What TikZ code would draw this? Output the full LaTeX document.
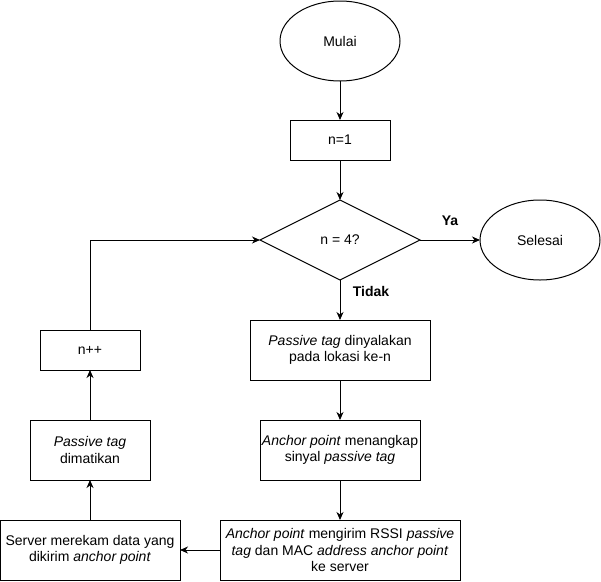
\documentclass[tikz,border=0pt]{standalone}
\usepackage{fontspec}
\setmainfont{Liberation Sans}
\usetikzlibrary{shapes.geometric,arrows.meta}
\begin{document}
\begin{tikzpicture}[x=1pt,y=-1pt,
  every node/.style={font=\fontsize{14}{16.5}\selectfont, align=center, inner sep=0pt, outer sep=0pt},
  proc/.style={draw, rectangle, line width=1pt},
  term/.style={draw, ellipse, line width=1pt, minimum width=120pt, minimum height=80pt},
  decision/.style={draw, diamond, aspect=2, line width=1pt, minimum width=160pt, minimum height=80pt},
  lbl/.style={font=\fontsize{14}{16.5}\selectfont\bfseries},
  flow/.style={line width=1pt, -{Stealth[length=8pt,width=7pt,inset=2.5pt]}}
]
\useasboundingbox (0,0) rectangle (601,581);

% main column
\node[term] (mulai) at (340,41) {Mulai};
\node[proc, minimum width=100pt, minimum height=40pt] (init) at (340,140) {n=1};
\node[decision] (cek) at (340,240) {n = 4?};
\node[term] (selesai) at (540,240) {Selesai};
\node[proc, minimum width=180pt, minimum height=60pt] (nyala) at (340,350)
  {\textit{Passive tag} dinyalakan\\pada lokasi ke-n};
\node[proc, minimum width=160pt, minimum height=60pt] (tangkap) at (340,450)
  {\textit{Anchor point} menangkap\\sinyal \textit{passive tag}};
\node[proc, minimum width=240pt, minimum height=60pt] (kirim) at (340,550)
  {\textit{Anchor point} mengirim RSSI \textit{passive}\\\textit{tag} dan MAC \textit{address anchor point}\\ke server};

% return column
\node[proc, minimum width=180pt, minimum height=60pt] (server) at (90,550)
  {Server merekam data yang\\dikirim \textit{anchor point}};
\node[proc, minimum width=120pt, minimum height=60pt] (mati) at (90,450)
  {\textit{Passive tag}\\dimatikan};
\node[proc, minimum width=100pt, minimum height=40pt] (inc) at (90,350) {n++};

% branch labels
\node[lbl] (ya) at (450,221) {Ya};
\node[lbl] (tidak) at (371,291) {Tidak};

% connectors
\draw[flow] (mulai.south) -- (init.north);
\draw[flow] (init.south) -- (cek.north);
\draw[flow] (cek.east) -- (selesai.west);
\draw[flow] (cek.south) -- (nyala.north);
\draw[flow] (nyala.south) -- (tangkap.north);
\draw[flow] (tangkap.south) -- (kirim.north);
\draw[flow] (kirim.west) -- (server.east);
\draw[flow] (server.north) -- (mati.south);
\draw[flow] (mati.north) -- (inc.south);
\draw[flow] (inc.north) |- (cek.west);
\end{tikzpicture}
\end{document}
